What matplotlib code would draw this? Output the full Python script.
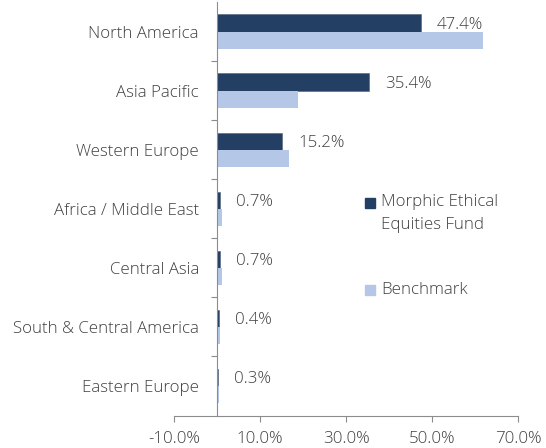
import matplotlib
matplotlib.use('Agg')
import matplotlib.pyplot as plt
from matplotlib.patches import Rectangle
import numpy as np

plt.rcParams['font.family'] = ['Open Sans', 'DejaVu Sans']
plt.rcParams['font.weight'] = 'light'

regions = ['North America', 'Asia Pacific', 'Western Europe', 'Africa / Middle East',
           'Central Asia', 'South & Central America', 'Eastern Europe']
fund = [47.4, 35.4, 15.2, 0.7, 0.7, 0.4, 0.3]
benchmark = [61.9, 18.8, 16.7, 1.2, 1.2, 0.8, 0.4]
x_ticks = [-10, 10, 30, 50, 70]

navy = '#243f64'
light = '#b4c7e7'
text_col = '#404040'
axis_col = '#8c8c8c'
fs = 12.2

fig = plt.figure(figsize=(5.46, 4.48), dpi=100)
ax = fig.add_axes([174 / 546, 1 - 415.5 / 448, 344 / 546, 413.5 / 448])

y = np.arange(len(regions))
h = 0.29
ax.barh(y - h / 2, fund, height=h, color=navy, edgecolor='#50627a', linewidth=0.4)
ax.barh(y + h / 2, benchmark, height=h, color=light, linewidth=0)

for yi, v in zip(y, fund):
    ax.annotate(f'{v:.1f}%', (v, yi - h / 2), xytext=(16, -2), textcoords='offset pixels',
                ha='left', va='center', fontsize=fs, color=text_col)

ax.set_xlim(-10, 70)
ax.set_ylim(len(regions) - 0.5, -0.5)
ax.set_xticks(x_ticks)
ax.set_xticklabels([f'{t:.1f}%' for t in x_ticks])
ax.set_yticks(y)
ax.set_yticklabels(regions)
ax.set_yticks(np.arange(len(regions) - 1) + 0.5, minor=True)

for s in ['top', 'right']:
    ax.spines[s].set_visible(False)
ax.spines['left'].set_position(('data', 0))
ax.spines['left'].set_color(axis_col)
ax.spines['bottom'].set_color(axis_col)
ax.tick_params(axis='y', which='major', length=0, pad=13, labelsize=fs, labelcolor=text_col)
ax.tick_params(axis='y', which='minor', length=4.5, color=axis_col, width=0.8)
ax.tick_params(axis='x', length=4.5, color=axis_col, width=0.8, pad=7,
               labelsize=fs, labelcolor=text_col)

# legend
for (yp, c) in [(198, navy), (285, light)]:
    fig.patches.append(Rectangle((365 / 546, 1 - (yp + 10) / 448), 10 / 546, 10 / 448,
                                 transform=fig.transFigure, color=c))
fig.text(381 / 546, 1 - 202 / 448, 'Morphic Ethical', fontsize=fs, color=text_col, va='center')
fig.text(381 / 546, 1 - 225 / 448, 'Equities Fund', fontsize=fs, color=text_col, va='center')
fig.text(381 / 546, 1 - 290 / 448, 'Benchmark', fontsize=fs, color=text_col, va='center')

fig.savefig('out.png', dpi=100)
